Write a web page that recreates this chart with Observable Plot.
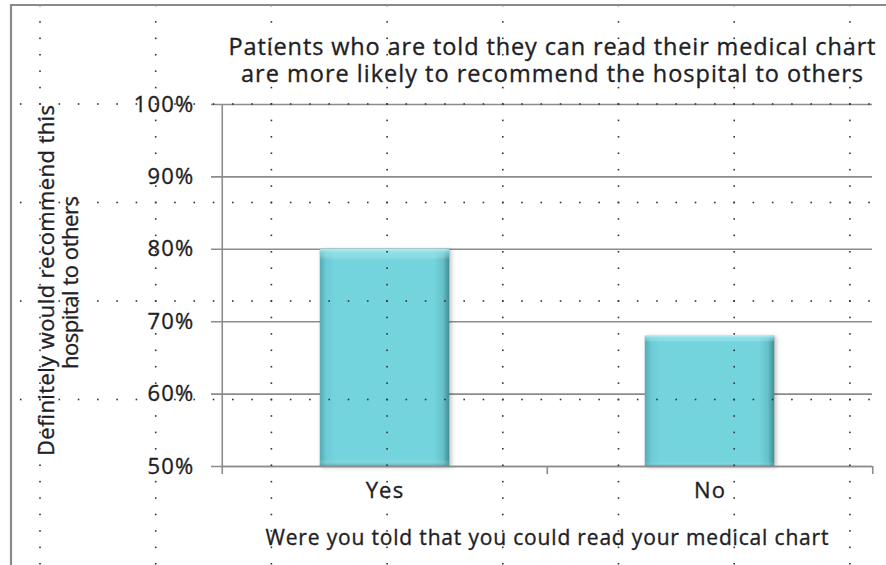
<!DOCTYPE html>
<html><head><meta charset="utf-8">
<script src="https://cdn.jsdelivr.net/npm/d3@7"></script>
<script src="https://cdn.jsdelivr.net/npm/@observablehq/plot@0.6"></script>
<style>
body{margin:0;background:#fff;}
#wrap{position:relative;width:886px;height:565px;overflow:hidden;background:#fff;}
#wrap svg{position:absolute;left:0;top:0;}
.ticklab text{letter-spacing:1.2px;}
.heavy text{stroke:#1e1e26;stroke-width:0.35px;}
</style></head><body><div id="wrap"></div>
<script>
const categories = ["Yes", "No"];
const values = [0.80, 0.68];
const yTicks = [0.5, 0.6, 0.7, 0.8, 0.9, 1.0];
const titleLines = ["Patients who are told they can read their medical chart", "are more likely to recommend the hospital to others"];
const yLabelLines = ["Definitely would recommend this", "hospital to others"];
const xLabel = "Were you told that you could read your medical chart";

const W = 886, H = 565, mL = 221, mR = 14, mT = 104, mB = 99;
const bw = (W - mL - mR) / categories.length;
const barW = 130;
const data = categories.map((c, i) => ({category: c, value: values[i]}));
const ink = "#1e1e26";
const axisGray = "#8c8c8c";
const font = "'Open Sans', Lato, sans-serif";

const chart = Plot.plot({
  width: W, height: H,
  marginLeft: mL, marginRight: mR, marginTop: mT, marginBottom: mB,
  style: {fontFamily: font, color: ink, background: "transparent", overflow: "visible"},
  x: {type: "band", domain: categories, padding: 0, axis: null},
  y: {domain: [0.5, 1], axis: null},
  marks: [
    // horizontal gridlines with left tick extension
    Plot.ruleY(yTicks, {stroke: axisGray, strokeWidth: 1.6, insetLeft: -10}),
    // bars
    Plot.barY(data, {x: "category", y1: 0.5, y2: "value", fill: "url(#barFill)",
      insetLeft: (bw - barW) / 2, insetRight: (bw - barW) / 2, className: "bars"}),
    Plot.barY(data, {x: "category", y1: 0.5, y2: "value", fill: "url(#barTop)",
      insetLeft: (bw - barW) / 2, insetRight: (bw - barW) / 2}),
    // y axis line (left edge of first band), extended below
    Plot.ruleX([categories[0]], {x: d => d, dx: -bw / 2, y1: 1, y2: 0.5, insetBottom: -8, stroke: axisGray, strokeWidth: 1.6}),
    // x axis line
    Plot.ruleY([0.5], {stroke: axisGray, strokeWidth: 1.6}),
    // category boundary ticks
    Plot.ruleX(categories.slice(1), {x: d => d, dx: -bw / 2, y1: 0.5, y2: 0.5, insetBottom: -8, stroke: axisGray, strokeWidth: 1.6}),
    Plot.ruleX(categories.slice(-1), {x: d => d, dx: bw / 2, y1: 0.5, y2: 0.5, insetBottom: -8, stroke: axisGray, strokeWidth: 1.6}),
    // y tick labels
    Plot.axisY({ticks: yTicks, tickSize: 0, tickPadding: 27, tickFormat: d3.format(".0%"), fontSize: 22, fill: ink, label: null, className: "ticklab heavy"}),
    // x tick labels
    Plot.axisX({tickSize: 0, tickPadding: 16, fontSize: 22, fill: ink, label: null, className: "ticklab heavy"}),
    // title
    Plot.text([titleLines[0]], {text: d => d, frameAnchor: "top", textAnchor: "middle", lineAnchor: "middle", dx: 5, dy: -57, fontSize: 23.5, fill: ink, className: "title1 heavy"}),
    Plot.text([titleLines[1]], {text: d => d, frameAnchor: "top", textAnchor: "middle", lineAnchor: "middle", dx: 5, dy: -30, fontSize: 23.5, fill: ink, className: "title2 heavy"}),
    // y label
    Plot.text([yLabelLines[0]], {text: d => d, frameAnchor: "left", textAnchor: "middle", lineAnchor: "middle", rotate: -90, dx: -175, dy: -5, fontSize: 22, fill: ink, className: "ylab1 heavy"}),
    Plot.text([yLabelLines[1]], {text: d => d, frameAnchor: "left", textAnchor: "middle", lineAnchor: "middle", rotate: -90, dx: -151, dy: -3, fontSize: 22, fill: ink, className: "ylab2 heavy"}),
    // x label
    Plot.text([xLabel], {text: d => d, frameAnchor: "bottom", textAnchor: "middle", lineAnchor: "middle", dx: 0, dy: 72, fontSize: 21, fill: ink, className: "xlab heavy"})
  ]
});

const svg = d3.select(chart);
const defs = svg.insert("defs", ":first-child");
const g1 = defs.append("linearGradient").attr("id", "barFill").attr("x1", 0).attr("x2", 1).attr("y1", 0).attr("y2", 0);
[[0, "#55aab2"], [0.05, "#6ccbd4"], [0.12, "#74d4dd"], [0.88, "#74d4dd"], [0.95, "#66c2ca"], [1, "#3f8c93"]]
  .forEach(([o, c]) => g1.append("stop").attr("offset", o).attr("stop-color", c));
const g2 = defs.append("linearGradient").attr("id", "barTop").attr("x1", 0).attr("x2", 0).attr("y1", 0).attr("y2", 1)
  .attr("gradientUnits", "objectBoundingBox");
[[0, "#b8f2f6", 0.9], [0.02, "#a0e8ee", 0.5], [0.05, "#ffffff", 0], [0.97, "#ffffff", 0], [1, "#3a8a90", 0.5]]
  .forEach(([o, c, a]) => g2.append("stop").attr("offset", o).attr("stop-color", c).attr("stop-opacity", a));
svg.selectAll("g.bars").style("filter", "drop-shadow(2px 1px 2px rgba(0,0,0,0.25))");

// fit long text lines to the reference widths
const fits = {title1: 647, title2: 622, ylab1: 351, ylab2: 173, xlab: 563};
Object.entries(fits).forEach(([k, w]) => {
  svg.selectAll(`.${k} text`).attr("textLength", w).attr("lengthAdjust", "spacing");
});

const wrap = document.getElementById("wrap");
wrap.appendChild(chart);

// spreadsheet background: dotted cell gridlines and sheet border, drawn over the chart
const ov = d3.select(wrap).append("svg").attr("width", W).attr("height", H).style("pointer-events", "none");
const colX = d3.range(0, 8).map(k => 40 + 115.7 * k);
const rowY = d3.range(1, 5).map(k => 5.5 + 98.5 * k);
const dots = [];
colX.forEach(x => { for (let y = 104 - 16.42 * 6; y < H; y += 16.42) dots.push([x, y]); });
rowY.forEach(y => { for (let x = 40 - 19.28; x < W; x += 19.28) dots.push([x, y]); });
ov.selectAll("rect").data(dots).join("rect")
  .attr("x", d => d[0] - 0.8).attr("y", d => d[1] - 0.8).attr("width", 1.6).attr("height", 1.6)
  .attr("fill", "#333");
ov.append("path").attr("d", `M11,${H}V5H${W}`).attr("fill", "none").attr("stroke", "#8a8a8a").attr("stroke-width", 2.2);
</script></body></html>
